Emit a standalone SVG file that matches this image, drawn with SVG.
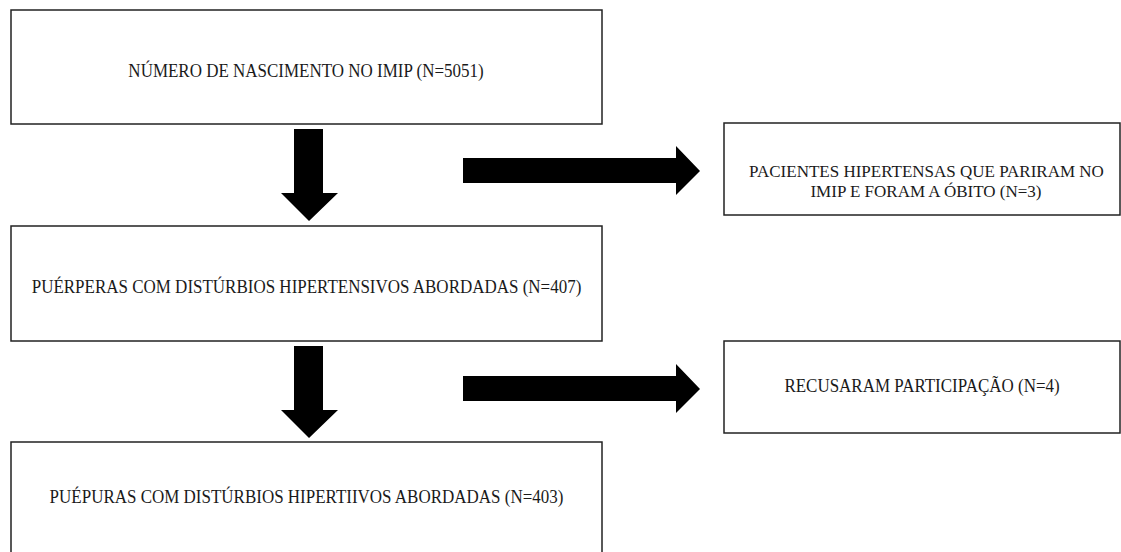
<svg xmlns="http://www.w3.org/2000/svg" width="1121" height="552" viewBox="0 0 1121 552">
<style>
.box{fill:#fff;stroke:#222;stroke-width:1.5}
text{font-family:'Liberation Serif','Times New Roman',serif;font-size:17px;fill:#1a1a1a;text-anchor:middle}
.arr{fill:#000}
</style>
<rect width="1121" height="552" fill="#fff"/>
<g id="n1"><rect class="box" x="11" y="10" width="591" height="114"/><text transform="translate(306 77) scale(1 1.15)">NÚMERO DE NASCIMENTO NO IMIP (N=5051)</text></g>
<g id="n2"><rect class="box" x="11" y="226" width="591" height="115"/><text transform="translate(306.5 293) scale(1 1.15)">PUÉRPERAS COM DISTÚRBIOS HIPERTENSIVOS ABORDADAS (N=407)</text></g>
<g id="n3"><rect class="box" x="11" y="442" width="591" height="120"/><text transform="translate(306.5 503) scale(1 1.15)">PUÉPURAS COM DISTÚRBIOS HIPERTIIVOS ABORDADAS (N=403)</text></g>
<g id="n4"><rect class="box" x="724" y="123" width="396" height="92"/><text x="926.5" y="176.5">PACIENTES HIPERTENSAS QUE PARIRAM NO</text><text x="926" y="196.5">IMIP E FORAM A ÓBITO (N=3)</text></g>
<g id="n5"><rect class="box" x="724" y="341" width="396" height="92"/><text transform="translate(922 392) scale(1 1.15)">RECUSARAM PARTICIPAÇÃO (N=4)</text></g>
<g id="connectors">
<polygon class="arr" points="294,129 323,129 323,193 338,193 309,221 281,193 294,193"/>
<polygon class="arr" points="294,346 323,346 323,410 338,410 309,438 281,410 294,410"/>
<polygon class="arr" points="463,158 676,158 676,146 700,171 676,195 676,183 463,183"/>
<polygon class="arr" points="463,376 676,376 676,364 700,389 676,413 676,401 463,401"/>
</g>
</svg>
